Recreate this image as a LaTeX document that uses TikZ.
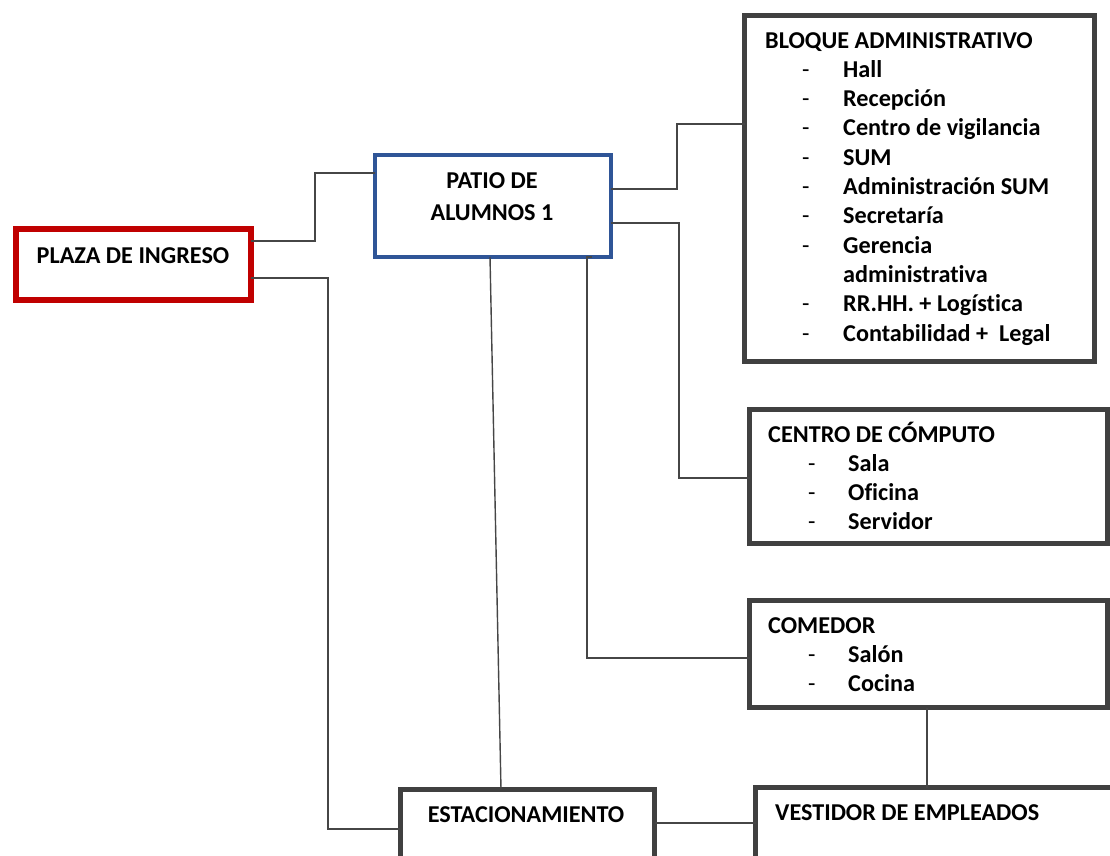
\documentclass[tikz,border=0pt]{standalone}
\usepackage{fontspec}
\setmainfont[Ligatures={NoCommon}]{Carlito}
\definecolor{plazared}{RGB}{192,0,0}
\definecolor{patioblue}{RGB}{47,85,151}
\definecolor{boxgray}{RGB}{64,64,64}
\definecolor{linegray}{RGB}{70,70,70}
\newcommand{\txt}{\fontsize{24.2}{29.3}\selectfont\bfseries}
\newcommand{\itm}[1]{\hspace*{40pt}\makebox[40pt][l]{\mdseries -}#1}
\newcommand{\itmb}[1]{\hspace*{37pt}\makebox[41pt][l]{\mdseries -}#1}
\tikzset{
  area/.style={rectangle, draw=boxgray, line width=5pt, inner sep=0pt, outer sep=0pt, anchor=north west, fill=white},
  lbl/.style={inner sep=0pt, font=\txt, text=black},
  conn/.style={draw=linegray, line width=1.4pt},
}
\begin{document}
\begin{tikzpicture}[x=1pt, y=-1pt]
\useasboundingbox (0,0) rectangle (1110,855);
\clip (0,0) rectangle (1110,855);

% main boxes (coordinates at stroke centre)
\node[area, draw=plazared, line width=6pt, minimum width=235pt, minimum height=71pt] (plaza) at (16,229) {};
\node[area, draw=patioblue, line width=4pt, minimum width=236pt, minimum height=102pt] (patio) at (375,155) {};
\node[area, minimum width=350pt, minimum height=346pt] (bloque) at (744.5,15.5) {};
\node[area, minimum width=358pt, minimum height=134pt] (centro) at (749.5,409.5) {};
\node[area, minimum width=358pt, minimum height=107pt] (comedor) at (749.5,600.5) {};
\node[area, minimum width=254.5pt, minimum height=120pt] (estac) at (400,789.5) {};
\node[area, minimum width=450pt, minimum height=120pt] (vestidor) at (755.5,787.5) {};

% connectors
\draw[conn] (plaza.east |- 0,241) -| (315,173) -- (patio.west |- 0,173);
\draw[conn] (plaza.east |- 0,278) -| (328,829) -- (estac.west |- 0,829);
\draw[conn] (patio.east |- 0,189) -| (677,124) -- (bloque.west |- 0,124);
\draw[conn] (patio.east |- 0,223) -| (679,478) -- (centro.west |- 0,478);
\draw[conn] (patio.south -| 592,0) -- (patio.south -| 587,0) |- (comedor.west |- 0,658);
\draw[conn] (patio.south -| 490,0) -- (estac.north -| 501,0);
\draw[conn] (comedor.south -| 927,0) -- (vestidor.north -| 927,0);
\draw[conn] (estac.east |- 0,823) -- (vestidor.west |- 0,823);

% labels
\node[lbl, anchor=base] (tplaza) at (133,263) {PLAZA DE INGRESO};
\node[lbl, anchor=base] (tpatio1) at (492,188) {PATIO DE};
\node[lbl, anchor=base] (tpatio2) at (492,220) {ALUMNOS 1};
\node[lbl, anchor=base west] (tbloque) at (765,48) {\begin{tabular}[t]{@{}l@{}}
BLOQUE ADMINISTRATIVO\\
\itmb{Hall}\\
\itmb{Recepción}\\
\itmb{Centro de vigilancia}\\
\itmb{SUM}\\
\itmb{Administración SUM}\\
\itmb{Secretaría}\\
\itmb{Gerencia}\\
\hspace*{78pt}administrativa\\
\itmb{RR.HH. + Logística}\\
\itmb{Contabilidad +\ \ Legal}
\end{tabular}};
\node[lbl, anchor=base west] (tcentro) at (768,442) {\begin{tabular}[t]{@{}l@{}}
CENTRO DE CÓMPUTO\\
\itm{Sala}\\
\itm{Oficina}\\
\itm{Servidor}
\end{tabular}};
\node[lbl, anchor=base west] (tcomedor) at (768,633) {\begin{tabular}[t]{@{}l@{}}
COMEDOR\\
\itm{Salón}\\
\itm{Cocina}
\end{tabular}};
\node[lbl, anchor=base] (testac) at (526,822) {ESTACIONAMIENTO};
\node[lbl, anchor=base west] (tvest) at (775,820) {VESTIDOR DE EMPLEADOS};
\end{tikzpicture}
\end{document}
